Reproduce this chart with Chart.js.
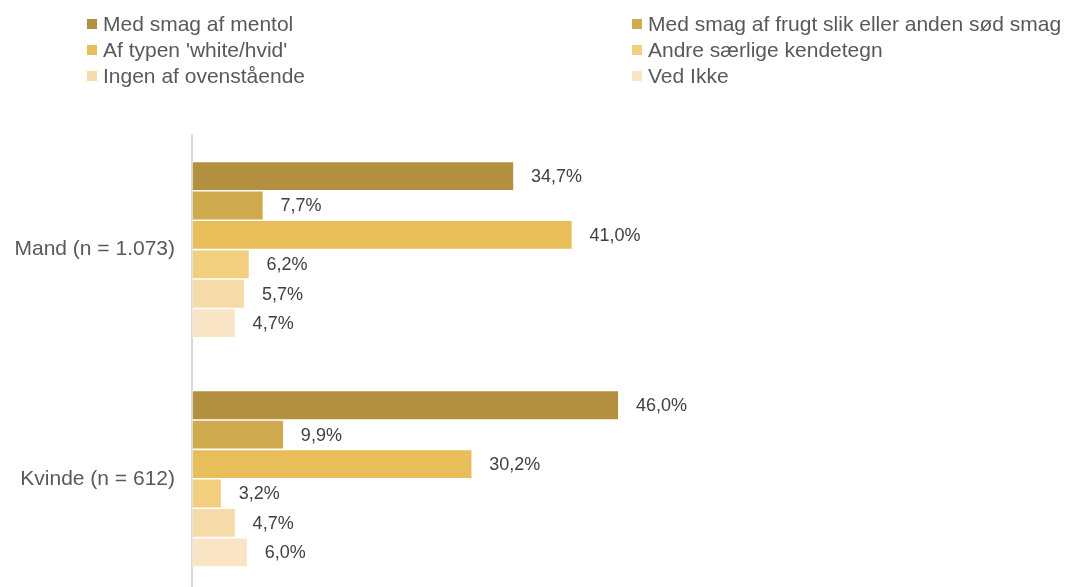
<!DOCTYPE html>
<html>
<head>
<meta charset="utf-8">
<script src="https://cdn.jsdelivr.net/npm/chart.js@4.4.0/dist/chart.umd.min.js"></script>
<style>
  html, body { margin: 0; padding: 0; background: #fff; overflow: hidden; }
  #wrap { position: relative; width: 1066px; height: 623px; }
  #legend { position: absolute; left: 0; top: 0; width: 1066px; height: 100px; font-family: "Liberation Sans", Arial, sans-serif; font-size: 21px; color: #595959; }
  .item { position: absolute; height: 26px; line-height: 26px; white-space: nowrap; }
  .box { position: absolute; left: 0; top: 8px; width: 10px; height: 10px; }
  .txt { position: absolute; left: 16px; top: 0; }
</style>
</head>
<body>
<div id="wrap">
  <canvas id="chart" width="1066" height="623"></canvas>
  <div id="legend"></div>
</div>
<script>
const categories = ["Mand (n = 1.073)", "Kvinde (n = 612)"];
const seriesNames = [
  "Med smag af mentol",
  "Med smag af frugt slik eller anden sød smag",
  "Af typen 'white/hvid'",
  "Andre særlige kendetegn",
  "Ingen af ovenstående",
  "Ved Ikke"
];
const mentol = [34.7, 46.0];
const frugt = [7.7, 9.9];
const white = [41.0, 30.2];
const andre = [6.2, 3.2];
const ingen = [5.7, 4.7];
const vedIkke = [4.7, 6.0];
const seriesValues = [mentol, frugt, white, andre, ingen, vedIkke];
const colors = ["#B39040", "#CFAA4E", "#E7BE5A", "#F2CE7F", "#F5DBA8", "#F9E5C6"];

const FONT = '"Liberation Sans", Arial, sans-serif';

// legend: two columns, three rows
const legend = document.getElementById("legend");
const colX = [87, 632];
const rowY = [11, 37, 63];
seriesNames.forEach((name, i) => {
  const item = document.createElement("div");
  item.className = "item";
  item.style.left = colX[i % 2] + "px";
  item.style.top = rowY[Math.floor(i / 2)] + "px";
  item.innerHTML = '<span class="box" style="background:' + colors[i] + '"></span><span class="txt"></span>';
  item.querySelector(".txt").textContent = name;
  legend.appendChild(item);
});

const valueLabels = {
  id: "valueLabels",
  afterDatasetsDraw(chart) {
    const ctx = chart.ctx;
    ctx.save();
    ctx.font = "18px " + FONT;
    ctx.fillStyle = "#404040";
    ctx.textAlign = "left";
    ctx.textBaseline = "middle";
    chart.data.datasets.forEach((ds, di) => {
      chart.getDatasetMeta(di).data.forEach((bar, i) => {
        const txt = ds.data[i].toFixed(1).replace(".", ",") + "%";
        ctx.fillText(txt, bar.x + 17, bar.y + 1);
      });
    });
    ctx.restore();
  }
};

new Chart(document.getElementById("chart").getContext("2d"), {
  type: "bar",
  data: {
    labels: categories,
    datasets: seriesNames.map((name, i) => ({
      label: name,
      data: seriesValues[i],
      backgroundColor: colors[i],
      borderColor: "rgba(255,255,255,0.5)",
      borderWidth: 0.8,
      borderSkipped: false,
      categoryPercentage: 0.77,
      barPercentage: 1.0,
    })),
  },
  options: {
    indexAxis: "y",
    responsive: false,
    animation: false,
    layout: { padding: { top: 135, right: 410, bottom: 0, left: 0 } },
    plugins: {
      legend: { display: false },
      tooltip: { enabled: false },
    },
    scales: {
      x: {
        display: false,
        min: 0,
        max: 50,
      },
      y: {
        grid: { display: false, drawTicks: false },
        border: { display: true, color: "#D9D9D9", width: 2 },
        ticks: {
          color: "#595959",
          font: { family: FONT, size: 21 },
          padding: 17,
        },
        afterFit(scale) { scale.width = 192; },
      },
    },
  },
  plugins: [valueLabels],
});
</script>
</body>
</html>
